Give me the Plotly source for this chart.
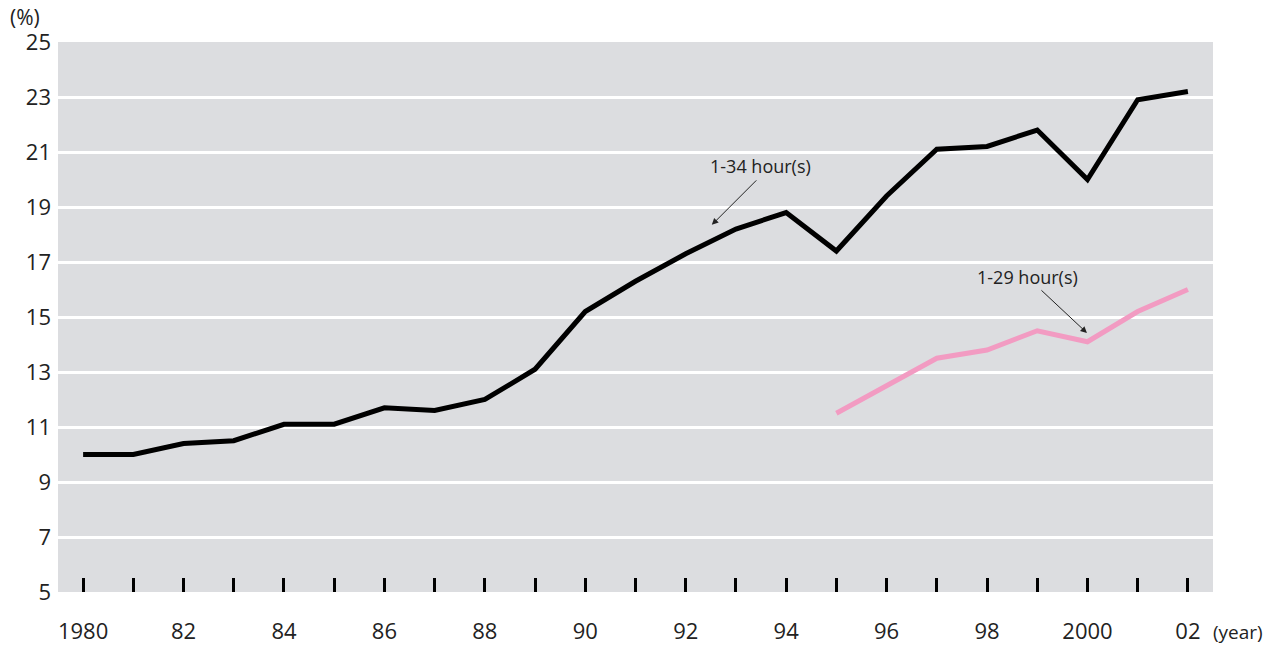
import plotly.graph_objects as go

years = list(range(1980, 2003))
hours_1_34 = [10.0, 10.0, 10.4, 10.5, 11.1, 11.1, 11.7, 11.6, 12.0, 13.1, 15.2, 16.3,
              17.3, 18.2, 18.8, 17.4, 19.4, 21.1, 21.2, 21.8, 20.0, 22.9, 23.2]
years_29 = list(range(1995, 2003))
hours_1_29 = [11.5, 12.5, 13.5, 13.8, 14.5, 14.1, 15.2, 16.0]

tick_vals = years
tick_text = ["1980", "", "82", "", "84", "", "86", "", "88", "", "90", "", "92", "",
             "94", "", "96", "", "98", "", "2000", "", "02"]
y_ticks = [5, 7, 9, 11, 13, 15, 17, 19, 21, 23, 25]

FONT = "Open Sans"
TXT = "#222222"

fig = go.Figure()
fig.add_trace(go.Scatter(x=years, y=hours_1_34, mode="lines",
                         line=dict(color="#000000", width=5), name="1-34 hour(s)"))
fig.add_trace(go.Scatter(x=years_29, y=hours_1_29, mode="lines",
                         line=dict(color="#f29bc2", width=5), name="1-29 hour(s)"))

fig.update_layout(
    width=1268, height=647,
    margin=dict(l=58, r=55, t=42, b=55),
    paper_bgcolor="white", plot_bgcolor="#dcdde0",
    showlegend=False,
    font=dict(family=FONT, color=TXT),
    xaxis=dict(range=[1979.5, 2002.5], tickvals=tick_vals, ticktext=tick_text,
               ticks="inside", ticklen=14, tickwidth=3, tickcolor="#000000",
               showgrid=False, zeroline=False, showline=False, automargin=False,
               tickfont=dict(size=22, family=FONT, color=TXT),
               ticklabelstandoff=24),
    yaxis=dict(range=[5, 25], tickvals=y_ticks, showgrid=True, gridcolor="white",
               gridwidth=3, zeroline=False, showline=False, ticks="", automargin=False,
               tickfont=dict(size=22, family=FONT, color=TXT),
               ticklabelstandoff=6),
)

fig.add_annotation(x=1992.52, y=18.35, ax=46, ay=-46, text="", showarrow=True,
                   arrowhead=2, arrowsize=1.3, arrowwidth=1, arrowcolor="#222222")
fig.add_annotation(x=1993.48, y=20.49, text="1-34 hour(s)", showarrow=False,
                   xanchor="center", yanchor="middle",
                   font=dict(size=18, family=FONT, color=TXT))
fig.add_annotation(x=1999.99, y=14.42, ax=-47, ay=-44, text="", showarrow=True,
                   arrowhead=2, arrowsize=1.3, arrowwidth=1, arrowcolor="#222222")
fig.add_annotation(x=1998.81, y=16.45, text="1-29 hour(s)", showarrow=False,
                   xanchor="center", yanchor="middle",
                   font=dict(size=18, family=FONT, color=TXT))
fig.add_annotation(xref="paper", yref="paper", x=1.0216, y=-0.0727, text="(year)",
                   showarrow=False, xanchor="center", yanchor="middle",
                   font=dict(size=19, family=FONT, color=TXT))
fig.add_annotation(xref="paper", yref="paper", x=-0.0286, y=1.0455, text="(%)",
                   showarrow=False, xanchor="center", yanchor="middle",
                   font=dict(size=21, family=FONT, color=TXT))

fig.write_html("out.html")
